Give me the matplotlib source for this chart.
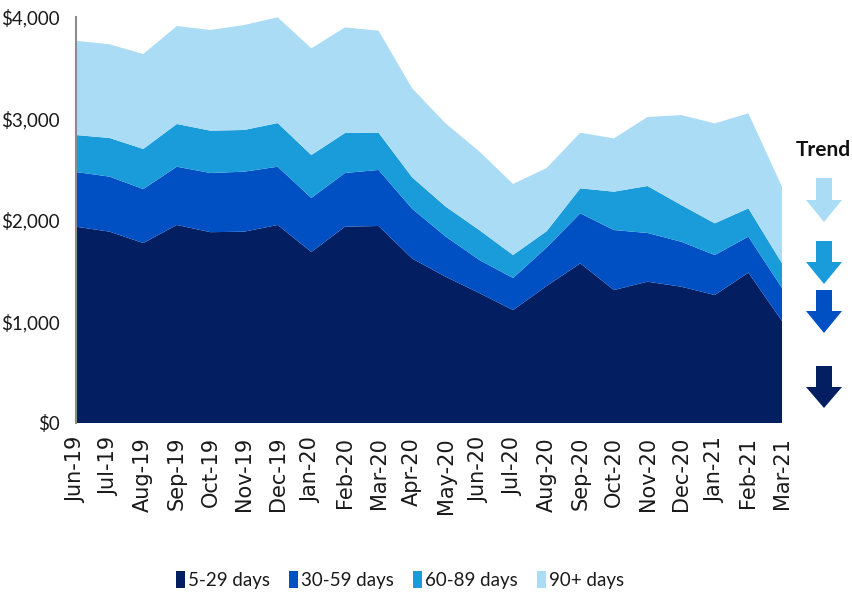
import matplotlib
matplotlib.use("Agg")
import matplotlib.pyplot as plt
from matplotlib.patches import Patch, Polygon
from matplotlib.ticker import FuncFormatter

months = ["Jun-19", "Jul-19", "Aug-19", "Sep-19", "Oct-19", "Nov-19", "Dec-19",
          "Jan-20", "Feb-20", "Mar-20", "Apr-20", "May-20", "Jun-20", "Jul-20",
          "Aug-20", "Sep-20", "Oct-20", "Nov-20", "Dec-20", "Jan-21", "Feb-21", "Mar-21"]
d5_29 = [1934, 1885, 1773, 1951, 1880, 1885, 1951, 1685, 1934, 1941, 1620,
         1440, 1280, 1113, 1350, 1573, 1310, 1392, 1343, 1261, 1481, 1005]
d30_59 = [539, 542, 532, 574, 583, 591, 574, 532, 529, 552, 490,
          396, 326, 315, 380, 493, 591, 480, 443, 394, 355, 325]
d60_89 = [364, 381, 395, 421, 417, 411, 430, 423, 394, 367, 310,
          295, 294, 227, 160, 246, 378, 463, 362, 312, 279, 243]
d90p = [929, 923, 935, 965, 992, 1034, 1042, 1051, 1041, 1005, 877,
        819, 775, 700, 622, 548, 525, 680, 886, 985, 936, 755]
series_names = ["5-29 days", "30-59 days", "60-89 days", "90+ days"]
colors = ["#041e62", "#0050c3", "#1a9cdb", "#aadcf6"]

NARROW = ["Lato", "DejaVu Sans"]

W, H = 853, 598
fig = plt.figure(figsize=(W / 100, H / 100), dpi=100)
ax = fig.add_axes([76 / W, 1 - 423 / H, (782 - 76) / W, (423 - 17) / H])

x = list(range(len(months)))
ax.stackplot(x, d5_29, d30_59, d60_89, d90p, colors=colors, linewidth=0)
ax.set_xlim(0, len(months) - 1)
ax.set_ylim(0, 4000)
ax.set_yticks([0, 1000, 2000, 3000, 4000])
ax.yaxis.set_major_formatter(FuncFormatter(lambda v, p: f"${int(v):,}"))
ax.set_xticks(x)
ax.set_xticklabels(months, rotation=90, fontsize=15, family="DejaVu Sans", color="#1a1a1a")
ax.tick_params(axis="both", length=0)
ax.tick_params(axis="x", pad=10)
ax.tick_params(axis="y", pad=12)
for lab in ax.get_yticklabels():
    lab.set_family(NARROW)
    lab.set_fontsize(13.5)
    lab.set_color("#1a1a1a")
for s in ["top", "right", "bottom"]:
    ax.spines[s].set_visible(False)
ax.spines["left"].set_color("#8c8c8c")
ax.spines["left"].set_linewidth(1.5)

handles = [Patch(facecolor=c, edgecolor="none") for c in colors]
leg = fig.legend(handles, series_names, loc="center", bbox_to_anchor=(400 / W, 1 - 580 / H),
                 ncol=4, frameon=False, handlelength=0.5, handleheight=1.0,
                 handletextpad=0.15, columnspacing=1.0,
                 prop={"family": NARROW, "size": 13.5})
for t in leg.get_texts():
    t.set_color("#1a1a1a")

# overlay axes in pixel coordinates for the trend arrows
tax = fig.add_axes([0, 0, 1, 1])
tax.set_xlim(0, W)
tax.set_ylim(H, 0)
tax.axis("off")
tax.text(796, 150, "Trend", fontsize=15, fontweight="bold",
         family=NARROW, va="center", ha="left", color="#111111")

cx = 824
arrows = [(178, 200, 222, colors[3]), (241, 262, 284, colors[2]),
          (290, 311, 333, colors[1]), (366, 387, 408, colors[0])]
for top, head, tip, col in arrows:
    pts = [(cx - 8, top), (cx + 8, top), (cx + 8, head), (cx + 18, head),
           (cx, tip), (cx - 18, head), (cx - 8, head)]
    tax.add_patch(Polygon(pts, closed=True, facecolor=col, edgecolor="none"))

fig.savefig("out.png", dpi=100)
